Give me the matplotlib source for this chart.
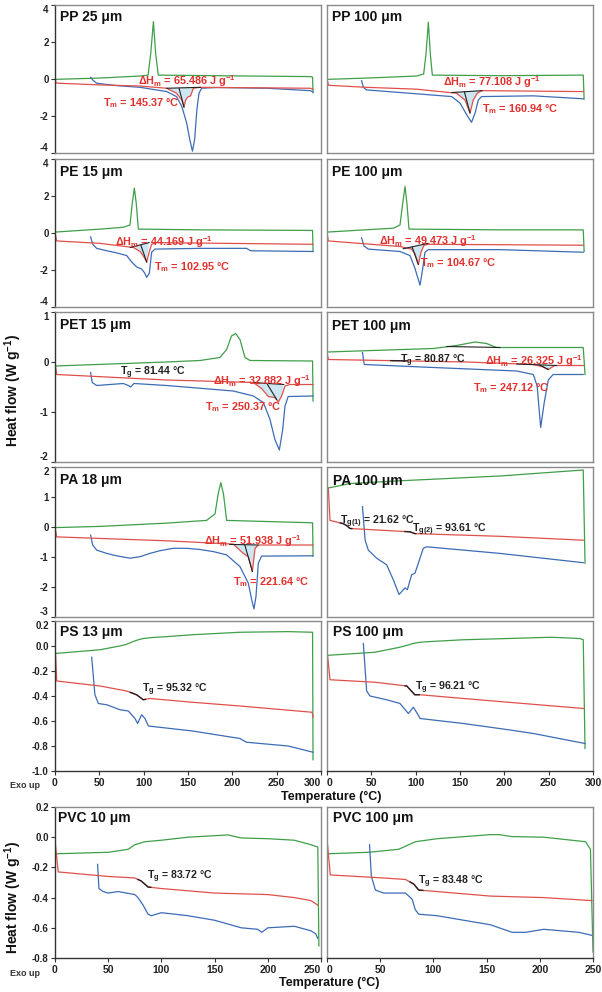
import numpy as np
import matplotlib
matplotlib.use("Agg")
import matplotlib.pyplot as plt

plt.rcParams['font.family'] = ['Liberation Sans', 'DejaVu Sans']
plt.rcParams['font.weight'] = 'bold'
plt.rcParams['mathtext.fontset'] = 'custom'
plt.rcParams['mathtext.rm'] = 'Liberation Sans:bold'
plt.rcParams['mathtext.it'] = 'Liberation Sans:bold'
plt.rcParams['mathtext.bf'] = 'Liberation Sans:bold'
plt.rcParams['axes.unicode_minus'] = False

# ---------------- data (temperature in °C, heat flow in W/g) ----------------
# PP 25 um
pp25_green_T = [0, 50, 96, 105, 108, 111, 113.5, 116.5, 200, 288, 290.5, 291]
pp25_green_q = [-0.02, 0.05, 0.16, 0.21, 1.4, 3.1, 1.4, 0.21, 0.17, 0.13, 0.1, -0.75]
pp25_blue_T = [40.2, 42.5, 47, 70, 96, 126, 137, 143, 148.5, 152, 155, 157.5, 160, 162.4, 165.4, 182, 239, 288, 291]
pp25_blue_q = [0.09, -0.05, -0.23, -0.36, -0.45, -0.68, -0.95, -1.48, -2.38, -3.27, -3.9, -3.27, -1.66, -0.77, -0.5, -0.46, -0.5, -0.63, -0.7]
pp25_red_T = [0, 1, 3.8, 50.8, 96, 126, 137, 143, 145.5, 147.4, 149.6, 153, 156, 163.5, 288, 291]
pp25_red_q = [0.16, -0.2, -0.23, -0.32, -0.38, -0.5, -0.77, -1.13, -1.52, -1.13, -0.98, -0.91, -0.5, -0.45, -0.5, -0.55]
# PP 100 um
pp100_green_T = [0, 44.7, 101, 109, 111.7, 114.3, 116.5, 118.8, 195, 289, 290]
pp100_green_q = [-0.02, 0.05, 0.16, 0.27, 1.38, 3.07, 1.38, 0.21, 0.18, 0.21, -1.09]
pp100_blue_T = [39, 41, 44.7, 101, 140.6, 150, 157.5, 163, 167, 170.7, 174.4, 232.7, 289]
pp100_blue_q = [-0.09, -0.45, -0.59, -0.8, -0.95, -1.3, -1.93, -2.34, -1.84, -1.13, -0.95, -0.91, -1.07]
pp100_red_T = [0, 1.9, 44.7, 101, 146, 155.6, 161.3, 165, 169.5, 174.4, 289]
pp100_red_q = [-0.02, -0.34, -0.45, -0.55, -0.77, -1.13, -1.84, -1.13, -0.77, -0.63, -0.68]
# PE 15 um
pe15_green_T = [0, 50.8, 77, 84.6, 87, 89.5, 91.7, 94, 163.5, 288, 290.5, 291]
pe15_green_q = [0.05, 0.21, 0.31, 0.43, 1.57, 2.43, 1.57, 0.21, 0.17, 0.14, 0.14, -1.0]
pe15_blue_T = [40.2, 42.5, 47, 58.3, 70, 80.8, 86.5, 92, 97.7, 101, 103.4, 106.4, 109, 112.8, 163.5, 216, 220.7, 291]
pe15_blue_q = [-0.21, -0.61, -0.83, -0.96, -1.08, -1.22, -1.57, -1.83, -1.95, -2.15, -2.4, -2.17, -1.04, -0.87, -0.83, -0.83, -0.96, -1.0]
pe15_red_T = [0, 1.9, 50.8, 88.3, 96, 100.4, 103.4, 106.4, 109, 114.7, 291]
pe15_red_q = [0.0, -0.43, -0.56, -0.78, -1.0, -1.3, -1.57, -1.0, -0.61, -0.52, -0.61]
# PE 100 um
pe100_green_T = [0, 74.8, 82.3, 85.3, 88, 90.2, 92.5, 195, 289, 290]
pe100_green_q = [0.05, 0.26, 0.43, 1.57, 2.52, 1.57, 0.21, 0.17, 0.17, -1.0]
pe100_blue_T = [39, 41.7, 46.6, 82.3, 93.6, 99.2, 104.9, 108, 110.5, 114.3, 195, 289]
pe100_blue_q = [-0.26, -0.7, -0.87, -1.0, -1.22, -1.91, -2.82, -1.91, -1.04, -0.9, -0.9, -1.04]
pe100_red_T = [0, 1.5, 82.3, 95.5, 99.2, 103, 106, 109.4, 114.3, 289]
pe100_red_q = [0.0, -0.43, -0.73, -0.87, -1.13, -1.7, -1.04, -0.66, -0.61, -0.66]
# PET 15 um
pet15_green_T = [0, 126, 163.5, 186, 193.6, 199, 203.8, 208.6, 214.3, 220, 290.5, 291]
pet15_green_q = [-0.08, 0.0, 0.03, 0.09, 0.25, 0.52, 0.57, 0.45, 0.09, 0.03, 0.02, -0.78]
pet15_blue_T = [40.2, 42, 47, 77, 82.7, 85.3, 89, 126, 201, 223.7, 235, 242.5, 248, 253, 256.8, 259.4, 263, 291]
pet15_blue_q = [-0.21, -0.41, -0.47, -0.43, -0.47, -0.5, -0.43, -0.47, -0.58, -0.68, -0.81, -1.15, -1.55, -1.76, -1.35, -0.88, -0.69, -0.68]
pet15_red_T = [0, 1.9, 126, 223.7, 233, 240.6, 248, 251.9, 255.6, 259.4, 265, 291]
pet15_red_q = [-0.01, -0.25, -0.36, -0.41, -0.53, -0.69, -0.71, -0.8, -0.68, -0.48, -0.45, -0.45]
# PET 100 um
pet100_green_T = [0, 120, 146, 167, 180, 191, 289, 291]
pet100_green_q = [0.2, 0.27, 0.33, 0.4, 0.37, 0.29, 0.29, -0.25]
pet100_blue_T = [40, 42, 120, 214, 232.7, 237, 241, 245, 249.6, 255, 289]
pet100_blue_q = [0.19, -0.05, -0.11, -0.18, -0.25, -0.48, -1.31, -0.81, -0.36, -0.25, -0.25]
pet100_red_T = [0, 1.5, 157.5, 232.7, 242, 249.6, 257, 289]
pet100_red_q = [0.2, 0.05, 0.0, -0.05, -0.09, -0.15, -0.07, -0.07]
# PA 18 um
pa18_green_T = [0, 50.8, 126, 171, 180.5, 184, 187, 190, 193.6, 290.5, 291]
pa18_green_q = [-0.02, 0.02, 0.13, 0.22, 0.44, 1.1, 1.48, 1.1, 0.22, 0.14, -0.97]
pa18_blue_T = [40.2, 42.5, 47, 58.3, 69.5, 84.6, 95.9, 107, 118.4, 133.5, 148.5, 163.5, 178.6, 193.6, 208.6, 218, 221.8, 224.4, 226.7, 229.3, 233, 291]
pa18_blue_q = [-0.27, -0.6, -0.77, -0.88, -0.96, -1.04, -0.99, -0.88, -0.79, -0.71, -0.71, -0.75, -0.82, -0.93, -1.32, -1.87, -2.42, -2.73, -2.31, -1.21, -0.97, -0.96]
pa18_red_T = [0, 1.9, 126, 201, 212.4, 218, 222.6, 225.6, 229.3, 291]
pa18_red_q = [0.0, -0.33, -0.46, -0.57, -0.88, -0.99, -1.48, -0.71, -0.6, -0.6]
# PA 100 um
pa100_green_T = [1.5, 26, 82, 195, 289, 291]
pa100_green_q = [1.3, 1.45, 1.54, 1.7, 1.9, -1.21]
pa100_blue_T = [40, 43, 46.6, 56, 67.3, 74.8, 81.2, 88, 90.6, 95.5, 99.2, 103, 108.6, 112.4, 195, 289]
pa100_blue_q = [0.68, -0.44, -0.77, -1.04, -1.26, -1.76, -2.25, -2.03, -2.09, -1.59, -1.54, -1.21, -0.71, -0.66, -0.88, -1.19]
pa100_red_T = [1.5, 3.4, 18.4, 22, 26, 93.6, 99, 195, 289]
pa100_red_q = [1.3, 0.22, 0.11, 0.05, -0.05, -0.16, -0.22, -0.31, -0.44]
# PS 13 um
ps13_green_T = [0, 50.8, 73, 80, 88, 94, 99.6, 110, 126, 155, 208.6, 263, 290.5, 291]
ps13_green_q = [-0.06, -0.03, 0.0, 0.012, 0.035, 0.05, 0.06, 0.068, 0.075, 0.09, 0.11, 0.115, 0.11, -0.91]
ps13_blue_T = [41.4, 45, 48.9, 58.3, 73.3, 82.7, 90.2, 93.2, 97.7, 101.5, 105.3, 155, 208.6, 216, 263, 291]
ps13_blue_q = [-0.09, -0.39, -0.46, -0.47, -0.51, -0.52, -0.58, -0.62, -0.55, -0.58, -0.64, -0.68, -0.74, -0.77, -0.8, -0.85]
ps13_red_T = [0, 1.9, 50.8, 80.8, 92, 99.6, 107, 155, 208.6, 290, 291]
ps13_red_q = [0.04, -0.28, -0.32, -0.36, -0.39, -0.43, -0.42, -0.45, -0.48, -0.53, -0.57]
# PS 100 um
ps100_green_T = [0, 54, 82, 90, 97, 105, 115, 154, 204.5, 253, 285, 289, 291]
ps100_green_q = [-0.075, -0.05, -0.01, 0.005, 0.02, 0.03, 0.035, 0.05, 0.06, 0.07, 0.06, 0.05, -0.82]
ps100_blue_T = [41, 44.7, 48.5, 67.3, 82.3, 91.7, 97.4, 101.9, 105, 153.8, 204.5, 232.7, 291]
ps100_blue_q = [0.02, -0.36, -0.4, -0.43, -0.46, -0.54, -0.49, -0.54, -0.58, -0.62, -0.67, -0.7, -0.78]
ps100_red_T = [0, 3.4, 54, 90, 99, 105, 154, 204.5, 289.5]
ps100_red_q = [-0.03, -0.27, -0.29, -0.32, -0.39, -0.39, -0.42, -0.45, -0.5]
# PVC 10 um
pvc10_green_T = [0, 50, 68.8, 75, 84.4, 100, 125, 150, 162.5, 175, 200, 225, 240.6, 247, 248]
pvc10_green_q = [-0.11, -0.1, -0.08, -0.05, -0.03, -0.02, 0.0, 0.01, 0.015, -0.005, -0.01, -0.02, -0.05, -0.065, -0.72]
pvc10_blue_T = [40, 41.3, 45.3, 50, 59.4, 75, 78, 82.8, 87.5, 90.6, 100, 125, 150, 175, 190.6, 194.4, 200, 225, 240.6, 245, 247]
pvc10_blue_q = [-0.18, -0.34, -0.36, -0.37, -0.36, -0.38, -0.4, -0.45, -0.51, -0.52, -0.5, -0.52, -0.55, -0.6, -0.61, -0.63, -0.6, -0.59, -0.62, -0.64, -0.67]
pvc10_red_T = [0, 3, 50, 75, 81, 87.5, 100, 150, 200, 225, 240.6, 247]
pvc10_red_q = [-0.02, -0.23, -0.26, -0.27, -0.29, -0.33, -0.34, -0.37, -0.38, -0.4, -0.42, -0.45]
# PVC 100 um
pvc100_green_T = [0, 39, 67.4, 76.8, 83, 103.4, 153.6, 161.4, 174, 203.8, 243, 247.6, 250]
pvc100_green_q = [-0.11, -0.1, -0.08, -0.05, -0.03, -0.01, 0.017, 0.017, 0.004, 0.0, -0.03, -0.08, -0.76]
pvc100_blue_T = [40, 41.7, 45.5, 53.3, 73.7, 80, 83, 86.2, 103.4, 153.6, 174, 186.5, 203.8, 236.7, 249]
pvc100_blue_q = [-0.05, -0.26, -0.35, -0.37, -0.37, -0.41, -0.48, -0.51, -0.52, -0.58, -0.63, -0.63, -0.61, -0.63, -0.65]
pvc100_red_T = [0, 3.1, 53.3, 73.7, 81.5, 86.2, 103.4, 153.6, 203.8, 249]
pvc100_red_q = [-0.01, -0.25, -0.27, -0.28, -0.31, -0.35, -0.36, -0.39, -0.4, -0.42]

# melting-peak integration: baseline (T, q) ends and Tm drop line
pp25_base = ([126, 164], [-0.5, -0.45]);   pp25_tmline = ([140, 145.5], [-0.52, -1.52])
pp100_base = ([141, 175], [-0.73, -0.63]); pp100_tmline = ([155, 161.3], [-0.7, -1.84])
pe15_base = ([85, 106], [-0.78, -0.52]);   pe15_tmline = ([97, 103.4], [-0.68, -1.57])
pe100_base = ([86, 114], [-0.85, -0.56]);  pe100_tmline = ([96, 103], [-0.75, -1.7])
pet15_base = ([224, 258], [-0.41, -0.45]); pet15_tmline = ([239, 250], [-0.43, -0.75])
pet100_base = ([214, 259], [-0.04, -0.07]); pet100_tmline = ([240, 249.6], [-0.06, -0.15])
pet100_cbase = ([135, 195], [0.31, 0.29])
pa18_base = ([197, 229], [-0.58, -0.6]);   pa18_tmline = ([214, 222.6], [-0.59, -1.48])
# glass-transition ranges highlighted on 2nd heating
pet100_tg = [72, 90]
pa100_tg = [[15, 28], [88, 100]]
ps13_tg = [85, 102]
ps100_tg = [88, 104]
pvc10_tg = [78, 90]
pvc100_tg = [78, 90]

# ---------------- styling ----------------
W, H = 602, 992
GREEN = '#3f9f48'
BLUE = '#3c6cb6'
RED = '#e0504a'
TRED = '#e2302c'
FILLC = '#cde7f2'
FRAME = '#8a8a8a'
DARK = '#333333'

fig = plt.figure(figsize=(W / 100, H / 100), dpi=100)

rows_px = [(5, 153), (159, 307), (312, 462), (467, 617), (621, 771), (807, 958)]
cols_px = [(55, 321), (327, 593)]
ylims = [(-4, 4), (-4, 4), (-2, 1), (-3, 2), (-1.0, 0.2), (-0.8, 0.2)]
yticks = [[-4, -2, 0, 2, 4], [-4, -2, 0, 2, 4], [-2, -1, 0, 1], [-3, -2, -1, 0, 1, 2],
          [-1.0, -0.8, -0.6, -0.4, -0.2, 0.0, 0.2], [-0.8, -0.6, -0.4, -0.2, 0.0, 0.2]]
ytickfmt = ['{:.0f}', '{:.0f}', '{:.0f}', '{:.0f}', '{:.1f}', '{:.1f}']


def px_rect(x0, y0, x1, y1):
    return [x0 / W, 1 - y1 / H, (x1 - x0) / W, (y1 - y0) / H]


def ftext(px, py, s, color='#222222', size=7.8, ha='left', **kw):
    fig.text(px / W, 1 - py / H, s, color=color, fontsize=size, ha=ha, va='center',
             fontweight='bold', **kw)


def make_axes(r, c):
    x0, x1 = cols_px[c]
    y0, y1 = rows_px[r]
    ax = fig.add_axes(px_rect(x0, y0, x1, y1))
    ax.set_ylim(*ylims[r])
    ax.set_xlim(0, 250 if r == 5 else 300)
    for s in ax.spines.values():
        s.set_color(FRAME)
        s.set_linewidth(1.0)
    if c == 0:
        ax.spines['left'].set_color(DARK)
        ax.set_yticks(yticks[r])
        labs = ax.set_yticklabels([ytickfmt[r].format(v) for v in yticks[r]], fontsize=7,
                                  fontweight='bold', color='#222222')
        if r <= 3:
            labs[0].set_va('bottom')
        if r <= 4:
            labs[-1].set_va('top')
        ax.tick_params(axis='y', direction='out', length=3, width=0.8, color=DARK, pad=1.5)
    else:
        ax.set_yticks([])
    if r >= 4:
        ax.spines['bottom'].set_color(DARK)
        xt = list(range(0, 251, 50)) if r == 5 else list(range(0, 301, 50))
        ax.set_xticks(xt)
        xl = ax.set_xticklabels([str(v) for v in xt], fontsize=7.5, fontweight='bold', color='#222222')
        if c == 0:
            xl[-1].set_ha('right')
        else:
            xl[0].set_ha('left')
        ax.tick_params(axis='x', direction='out', length=3, width=0.8, color=DARK, pad=2)
    else:
        ax.set_xticks([])
    return ax


def curves(ax, g, b, rd):
    ax.plot(g[0], g[1], color=GREEN, lw=0.9)
    ax.plot(b[0], b[1], color=BLUE, lw=0.9)
    ax.plot(rd[0], rd[1], color=RED, lw=0.9)


def integ(ax, red, base, tmline):
    T = np.asarray(red[0], float)
    q = np.asarray(red[1], float)
    m = (T > base[0][0]) & (T < base[0][1])
    poly_T = [base[0][0]] + list(T[m]) + [base[0][1]]
    poly_q = [base[1][0]] + list(q[m]) + [base[1][1]]
    ax.fill(poly_T, poly_q, color=FILLC, lw=0, zorder=1)
    ax.plot(base[0], base[1], color='#222222', lw=0.8, zorder=4)
    ax.plot(tmline[0], tmline[1], color='#222222', lw=0.8, zorder=4)


def tg_overlay(ax, red, rng):
    T = np.asarray(red[0], float)
    q = np.asarray(red[1], float)
    m = (T > rng[0]) & (T < rng[1])
    tt = [rng[0]] + list(T[m]) + [rng[1]]
    qq = [np.interp(rng[0], T, q)] + list(q[m]) + [np.interp(rng[1], T, q)]
    ax.plot(tt, qq, color='#222222', lw=1.0, zorder=4)


# ---- PP ----
ax = make_axes(0, 0)
curves(ax, (pp25_green_T, pp25_green_q), (pp25_blue_T, pp25_blue_q), (pp25_red_T, pp25_red_q))
integ(ax, (pp25_red_T, pp25_red_q), pp25_base, pp25_tmline)
ax = make_axes(0, 1)
curves(ax, (pp100_green_T, pp100_green_q), (pp100_blue_T, pp100_blue_q), (pp100_red_T, pp100_red_q))
integ(ax, (pp100_red_T, pp100_red_q), pp100_base, pp100_tmline)
# ---- PE ----
ax = make_axes(1, 0)
curves(ax, (pe15_green_T, pe15_green_q), (pe15_blue_T, pe15_blue_q), (pe15_red_T, pe15_red_q))
integ(ax, (pe15_red_T, pe15_red_q), pe15_base, pe15_tmline)
ax = make_axes(1, 1)
curves(ax, (pe100_green_T, pe100_green_q), (pe100_blue_T, pe100_blue_q), (pe100_red_T, pe100_red_q))
integ(ax, (pe100_red_T, pe100_red_q), pe100_base, pe100_tmline)
# ---- PET ----
ax = make_axes(2, 0)
curves(ax, (pet15_green_T, pet15_green_q), (pet15_blue_T, pet15_blue_q), (pet15_red_T, pet15_red_q))
integ(ax, (pet15_red_T, pet15_red_q), pet15_base, pet15_tmline)
ax = make_axes(2, 1)
curves(ax, (pet100_green_T, pet100_green_q), (pet100_blue_T, pet100_blue_q), (pet100_red_T, pet100_red_q))
integ(ax, (pet100_red_T, pet100_red_q), pet100_base, pet100_tmline)
ax.plot(pet100_cbase[0], pet100_cbase[1], color='#222222', lw=0.8, zorder=4)
tg_overlay(ax, (pet100_red_T, pet100_red_q), pet100_tg)
# ---- PA ----
ax = make_axes(3, 0)
curves(ax, (pa18_green_T, pa18_green_q), (pa18_blue_T, pa18_blue_q), (pa18_red_T, pa18_red_q))
integ(ax, (pa18_red_T, pa18_red_q), pa18_base, pa18_tmline)
ax = make_axes(3, 1)
curves(ax, (pa100_green_T, pa100_green_q), (pa100_blue_T, pa100_blue_q), (pa100_red_T, pa100_red_q))
for rng in pa100_tg:
    tg_overlay(ax, (pa100_red_T, pa100_red_q), rng)
# ---- PS ----
ax = make_axes(4, 0)
curves(ax, (ps13_green_T, ps13_green_q), (ps13_blue_T, ps13_blue_q), (ps13_red_T, ps13_red_q))
tg_overlay(ax, (ps13_red_T, ps13_red_q), ps13_tg)
ax = make_axes(4, 1)
curves(ax, (ps100_green_T, ps100_green_q), (ps100_blue_T, ps100_blue_q), (ps100_red_T, ps100_red_q))
tg_overlay(ax, (ps100_red_T, ps100_red_q), ps100_tg)
# ---- PVC ----
ax = make_axes(5, 0)
curves(ax, (pvc10_green_T, pvc10_green_q), (pvc10_blue_T, pvc10_blue_q), (pvc10_red_T, pvc10_red_q))
tg_overlay(ax, (pvc10_red_T, pvc10_red_q), pvc10_tg)
ax = make_axes(5, 1)
curves(ax, (pvc100_green_T, pvc100_green_q), (pvc100_blue_T, pvc100_blue_q), (pvc100_red_T, pvc100_red_q))
tg_overlay(ax, (pvc100_red_T, pvc100_red_q), pvc100_tg)

# ---------------- texts ----------------
titles = [(60, 17, 'PP 25 μm'), (332, 17, 'PP 100 μm'),
          (60, 172, 'PE 15 μm'), (332, 172, 'PE 100 μm'),
          (60, 325, 'PET 15 μm'), (332, 326, 'PET 100 μm'),
          (60, 480, 'PA 18 μm'), (333, 481, 'PA 100 μm'),
          (60, 632, 'PS 13 μm'), (333, 632, 'PS 100 μm'),
          (58, 818, 'PVC 10 μm'), (333, 818, 'PVC 100 μm')]
for px, py, s in titles:
    ftext(px, py, s, color='#111111', size=10)

red_notes = [(138, 81, 'ΔH$_{m}$ = 65.486 J g$^{-1}$'), (103, 103, 'T$_{m}$ = 145.37 °C'),
             (443, 82, 'ΔH$_{m}$ = 77.108 J g$^{-1}$'), (482, 109, 'T$_{m}$ = 160.94 °C'),
             (115, 242, 'ΔH$_{m}$ = 44.169 J g$^{-1}$'), (154, 267, 'T$_{m}$ = 102.95 °C'),
             (379, 241, 'ΔH$_{m}$ = 49.473 J g$^{-1}$'), (420, 263, 'T$_{m}$ = 104.67 °C'),
             (213, 381, 'ΔH$_{m}$ = 32.882 J g$^{-1}$'), (205, 407, 'T$_{m}$ = 250.37 °C'),
             (485, 361, 'ΔH$_{m}$ = 26.325 J g$^{-1}$'), (473, 388, 'T$_{m}$ = 247.12 °C'),
             (204, 541, 'ΔH$_{m}$ = 51.938 J g$^{-1}$'), (233, 582, 'T$_{m}$ = 221.64 °C')]
for px, py, s in red_notes:
    ftext(px, py, s, color=TRED, size=7.8)

black_notes = [(120, 373, 'T$_{g}$ = 81.44 °C'), (400, 361, 'T$_{g}$ = 80.87 °C'),
               (340, 522, 'T$_{g(1)}$ = 21.62 °C'), (412, 530, 'T$_{g(2)}$ = 93.61 °C'),
               (142, 690, 'T$_{g}$ = 95.32 °C'), (415, 688, 'T$_{g}$ = 96.21 °C'),
               (147, 877, 'T$_{g}$ = 83.72 °C'), (418, 882, 'T$_{g}$ = 83.48 °C')]
for px, py, s in black_notes:
    ftext(px, py, s, color='#222222', size=7.6)

ftext(10, 785, 'Exo up', color='#333333', size=6.5)
ftext(10, 973, 'Exo up', color='#333333', size=6.5)
ftext(331, 797, 'Temperature (°C)', color='#111111', size=9, ha='center')
ftext(329, 983, 'Temperature (°C)', color='#111111', size=9, ha='center')
for py in (390, 897):
    fig.text(13 / W, 1 - py / H, 'Heat flow (W g$^{-1}$)', rotation=90, ha='center', va='center',
             fontsize=10, fontweight='bold', color='#111111')

fig.savefig('out.png', dpi=100)
